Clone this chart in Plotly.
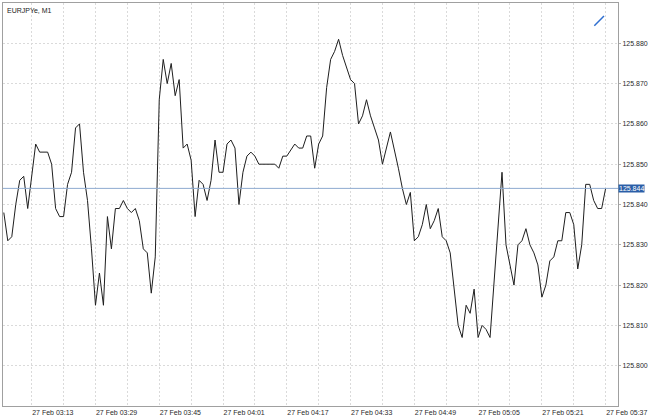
import plotly.graph_objects as go

DAY = "2019-02-27"
times = ["03:06","03:07","03:08","03:09","03:10","03:11","03:12","03:14","03:15","03:16",
         "03:17","03:18","03:19","03:20","03:21","03:22","03:23","03:24","03:25","03:26",
         "03:27","03:28","03:29","03:30","03:31","03:32","03:33","03:34","03:35","03:36",
         "03:37","03:38","03:39","03:40","03:41","03:42","03:43","03:44","03:45","03:46",
         "03:47","03:48","03:49","03:50","03:51","03:52","03:53","03:54","03:55","03:56",
         "03:57","03:58","03:59","04:00","04:01","04:02","04:03","04:04","04:05","04:06",
         "04:07","04:08","04:09","04:10","04:11","04:12","04:13","04:14","04:15","04:16",
         "04:17","04:19","04:20","04:21","04:22","04:23","04:24","04:25","04:26","04:27",
         "04:28","04:29","04:30","04:31","04:33","04:34","04:35","04:36","04:37","04:38",
         "04:39","04:40","04:41","04:43","04:45","04:46","04:47","04:48","04:49","04:50",
         "04:51","04:52","04:53","04:54","04:55","04:56","04:57","04:58","05:00","05:01",
         "05:02","05:03","05:04","05:05","05:06","05:07","05:08","05:11","05:12","05:13",
         "05:14","05:15","05:16","05:17","05:18","05:19","05:20","05:21","05:22","05:23",
         "05:24","05:25","05:26","05:27","05:28","05:29","05:30","05:31","05:32","05:33",
         "05:34","05:35","05:36","05:37"]
prices = [125.838,125.831,125.832,125.840,125.846,125.847,125.839,125.855,125.853,125.853,
          125.853,125.850,125.839,125.837,125.837,125.845,125.848,125.859,125.860,125.848,
          125.841,125.829,125.815,125.823,125.815,125.837,125.829,125.839,125.839,125.841,
          125.839,125.838,125.839,125.836,125.829,125.828,125.818,125.827,125.866,125.876,
          125.870,125.875,125.867,125.871,125.854,125.855,125.851,125.837,125.846,125.845,
          125.841,125.846,125.856,125.848,125.848,125.855,125.856,125.854,125.840,125.848,
          125.852,125.853,125.852,125.850,125.850,125.850,125.850,125.850,125.849,125.852,
          125.852,125.855,125.854,125.854,125.857,125.857,125.849,125.855,125.857,125.869,
          125.876,125.878,125.881,125.877,125.871,125.870,125.860,125.862,125.866,125.862,
          125.859,125.856,125.850,125.858,125.849,125.844,125.840,125.843,125.831,125.832,
          125.835,125.840,125.834,125.836,125.839,125.832,125.831,125.828,125.810,125.807,
          125.815,125.813,125.819,125.807,125.810,125.809,125.807,125.848,125.830,125.825,
          125.820,125.830,125.831,125.834,125.830,125.828,125.825,125.817,125.820,125.826,
          125.827,125.831,125.831,125.838,125.838,125.835,125.824,125.830,125.845,125.845,
          125.841,125.839,125.839,125.844]
label_times = ["03:13","03:29","03:45","04:01","04:17","04:33","04:49","05:05","05:21","05:37"]
grid_times = ["03:21","03:37","03:53","04:09","04:25","04:41","04:57","05:13","05:29"]
y_ticks = [125.800,125.810,125.820,125.830,125.840,125.850,125.860,125.870,125.880]
current_price = 125.844
title = "EURJPYe, M1"

FONT = "Liberation Sans, Arial, Helvetica, sans-serif"
x = [f"{DAY} {t}" for t in times]

fig = go.Figure()
fig.add_trace(go.Scatter(x=x, y=prices, mode="lines",
                         line=dict(color="#1e1e1e", width=1), hoverinfo="skip"))

grid = "#dadada"
gdash = "2px,2px"
fig.update_layout(
    width=650, height=416,
    margin=dict(l=3, r=32, t=3, b=10),
    paper_bgcolor="white", plot_bgcolor="white",
    showlegend=False,
    font=dict(family=FONT, size=7, color="#333333"),
    xaxis=dict(
        type="date",
        range=[f"{DAY} 03:05:48", f"{DAY} 05:40:06"],
        tickmode="array",
        tickvals=[f"{DAY} {t}" for t in label_times],
        ticktext=[f"27 Feb {t}" for t in label_times],
        ticklabelposition="outside right",
        ticks="", showgrid=True, gridcolor=grid, griddash=gdash, gridwidth=1,
        minor=dict(tickmode="array", tickvals=[f"{DAY} {t}" for t in grid_times],
                   showgrid=True, gridcolor=grid, griddash=gdash, gridwidth=1, ticks=""),
        showline=True, linecolor="#a0a0a0", linewidth=1, mirror=True,
        zeroline=False, automargin=False,
        tickfont=dict(family=FONT, size=7, color="#2a2a2a"),
    ),
    yaxis=dict(
        side="right",
        range=[125.790, 125.890],
        tickmode="array", tickvals=y_ticks,
        ticktext=[f"{v:.3f}" for v in y_ticks],
        ticks="outside", ticklen=2, tickcolor="#b0b0b0",
        showgrid=True, gridcolor=grid, griddash=gdash, gridwidth=1,
        showline=True, linecolor="#a0a0a0", linewidth=1, mirror=True,
        zeroline=False, automargin=False,
        tickfont=dict(family=FONT, size=7, color="#2a2a2a"),
    ),
)

# current price line and label
fig.add_shape(type="line", xref="paper", x0=0, x1=1, yref="y",
              y0=current_price, y1=current_price,
              line=dict(color="#8eaad0", width=1))
fig.add_annotation(xref="paper", x=1, yref="y", y=current_price,
                   xanchor="left", yanchor="middle", showarrow=False,
                   text=f"{current_price:.3f}", bgcolor="#2b5ea7",
                   font=dict(family=FONT, size=7, color="white"),
                   borderpad=0, xshift=0)

# chart title
fig.add_annotation(xref="paper", yref="paper", x=0, y=1, xanchor="left", yanchor="top",
                   showarrow=False, text=title, xshift=2, yshift=-2,
                   font=dict(family=FONT, size=7, color="#222222"))

# auto-trading icon (small blue diagonal)
fig.add_shape(type="line", xref="paper", yref="paper",
              x0=0.9615, y0=0.9437, x1=0.9772, y1=0.9677,
              line=dict(color="#2f6fd0", width=1.5))

fig.write_html("out.html", config={"displayModeBar": False},
               post_script="document.body.style.margin='0';document.body.style.padding='0';"
                           "document.body.style.overflow='hidden';")
